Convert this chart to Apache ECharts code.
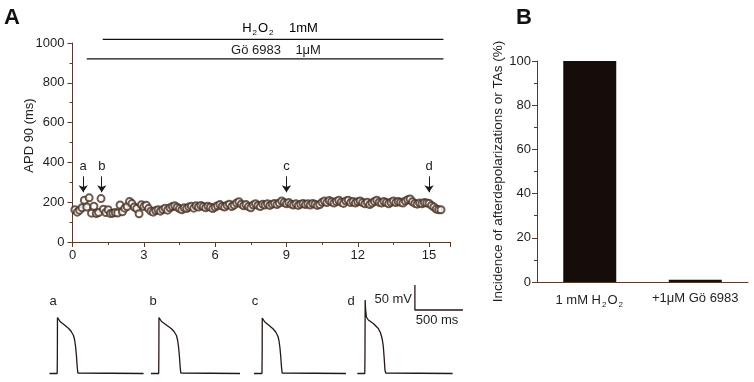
<!DOCTYPE html>
<html>
<head>
<meta charset="utf-8">
<script src="https://cdn.jsdelivr.net/npm/echarts@6/dist/echarts.min.js"></script>
<style>
html,body{margin:0;padding:0;background:#fff;}
#main{width:754px;height:382px;}
</style>
</head>
<body>
<div id="main"></div>
<script>
// APD90 over time (min), panel A
var apdTime = [
  0.1,0.2,0.3,0.4,0.5,0.6,0.7,0.8,0.9,1.0,
  1.1,1.2,1.3,1.4,1.5,1.6,1.7,1.8,1.9,2.0,
  2.1,2.2,2.3,2.4,2.5,2.6,2.7,2.8,2.9,3.0,
  3.1,3.2,3.3,3.4,3.5,3.6,3.7,3.8,3.9,4.0,
  4.1,4.2,4.3,4.4,4.5,4.6,4.7,4.8,4.9,5.0,
  5.1,5.2,5.3,5.4,5.5,5.6,5.7,5.8,5.9,6.0,
  6.1,6.2,6.3,6.4,6.5,6.6,6.7,6.8,6.9,7.0,
  7.1,7.2,7.3,7.4,7.5,7.6,7.7,7.8,7.9,8.0,
  8.1,8.2,8.3,8.4,8.5,8.6,8.7,8.8,8.9,9.0,
  9.1,9.2,9.3,9.4,9.5,9.6,9.7,9.8,9.9,10.0,
  10.1,10.2,10.3,10.4,10.5,10.6,10.7,10.8,10.9,11.0,
  11.1,11.2,11.3,11.4,11.5,11.6,11.7,11.8,11.9,12.0,
  12.1,12.2,12.3,12.4,12.5,12.6,12.7,12.8,12.9,13.0,
  13.1,13.2,13.3,13.4,13.5,13.6,13.7,13.8,13.9,14.0,
  14.1,14.2,14.3,14.4,14.5,14.6,14.7,14.8,14.9,15.0,
  15.1,15.2,15.3,15.4,15.5
];
var apdValue = [
  162,150,160,172,210,176,222,145,180,143,
  148,218,165,148,162,143,145,148,146,186,
  152,170,178,204,193,176,168,142,187,178,
  185,168,155,150,158,162,155,163,170,160,
  172,178,182,175,168,162,172,168,176,180,
  170,182,176,184,178,172,180,175,168,176,
  182,188,180,176,185,190,178,186,196,202,
  190,182,188,178,172,186,192,184,178,190,
  186,192,184,190,194,188,196,206,198,192,
  198,190,186,192,184,190,194,188,192,186,
  194,190,184,188,200,206,198,208,202,196,
  204,210,200,194,206,210,198,204,196,202,
  206,198,192,200,188,196,204,210,200,196,
  204,198,192,200,206,198,204,200,196,206,
  212,216,202,194,190,196,192,198,196,194,
  184,176,166,162,162
];
var arrowTimes = [0.45, 1.23, 9.0, 15.0];
var arrowLabels = ['a', 'b', 'c', 'd'];
var arrowFrom = 330, arrowTo = 250;
// drug application bars (min), drawn above the 1000 ms line
var h2o2Span = [1.27, 15.6], h2o2Level = 1018;
var goSpan = [0.6, 15.6], goLevel = 920;

// panel B
var groups = ['1 mM H₂O₂', '+1μM Gö 6983'];
var incidence = [100, 1];

// action potential traces [ms, mV]
var apA = [[0,-87],[80,-87],[82,-50],[83,25],[88,22],[110,17],[156,10],[200,3],[226,-3],[250,-11],[262,-20],[272,-34],[280,-50],[288,-72],[295,-86],[310,-87],[980,-87]];
var apB = [[0,-87],[80,-87],[82,-50],[83,25],[88,22],[110,17],[160,10],[210,3],[240,-3],[265,-11],[277,-20],[287,-34],[295,-50],[303,-72],[310,-86],[325,-87],[927,-87]];
var apC = [[0,-87],[83,-87],[85,-50],[86,24],[91,21],[113,16],[158,9],[200,2],[226,-4],[248,-12],[260,-21],[270,-35],[278,-52],[286,-73],[293,-86],[308,-87],[958,-87]];
var apD = [[0,-87],[78,-87],[80,-50],[82,60],[86,42],[95,26],[115,20],[167,13],[219,3],[240,-5],[253,-13],[263,-22],[271,-33],[280,-56],[288,-80],[296,-86],[310,-87],[993,-87]];
var scaleBar = [[600,90],[600,40],[1100,40]];

var font = 'Liberation Sans, Arial, Helvetica, sans-serif';
var axisColor = '#5a3a2c', textColor = '#1e1e1e', inkColor = '#241814';

var subRich = {
  n: {fontSize: 13, fontFamily: font, color: textColor},
  s: {fontSize: 8, fontFamily: font, color: textColor, padding: [9, 1, 0, 1]}
};
function subFmt(v) { return v.replace(/₂/g, '{s|2}'); }

var myChart = echarts.init(document.getElementById('main'), null, {renderer: 'canvas'});

function traceGrid(left, width) {
  return {left: left, top: 285, width: width, height: 90};
}
function hiddenX(idx, max) {
  return {type: 'value', gridIndex: idx, min: 0, max: max, show: false};
}
function hiddenY(idx) {
  return {type: 'value', gridIndex: idx, min: -90, max: 90, show: false};
}
function trace(idx, data) {
  return {type: 'line', xAxisIndex: idx, yAxisIndex: idx, data: data, symbol: 'none',
    lineStyle: {color: inkColor, width: 1.3}, silent: true, animation: false};
}

var option = {
  backgroundColor: '#fff',
  animation: false,
  textStyle: {fontFamily: font},
  grid: [
    {left: 72.5, top: 43, width: 378, height: 199},
    {left: 537, top: 61, width: 211, height: 221},
    traceGrid(49.5, 96),
    traceGrid(151, 96),
    traceGrid(254, 96),
    traceGrid(357.3, 115.2)
  ],
  xAxis: [
    {
      type: 'value', gridIndex: 0, min: 0, max: 15.9, interval: 3,
      axisLine: {lineStyle: {color: axisColor, width: 1}},
      axisTick: {length: 5, lineStyle: {color: axisColor}},
      minorTick: {show: true, splitNumber: 2, length: 3, lineStyle: {color: axisColor}},
      axisLabel: {fontSize: 13, color: textColor, margin: 7, showMaxLabel: false},
      splitLine: {show: false}
    },
    {
      type: 'category', gridIndex: 1, data: groups,
      axisLine: {lineStyle: {color: axisColor, width: 1}},
      axisTick: {length: 5, lineStyle: {color: axisColor}},
      axisLabel: {fontSize: 13, color: textColor, margin: 10, interval: 0, hideOverlap: false,
        formatter: subFmt, rich: subRich}
    },
    hiddenX(2, 1000), hiddenX(3, 1000), hiddenX(4, 1000), hiddenX(5, 1200)
  ],
  yAxis: [
    {
      type: 'value', gridIndex: 0, min: 0, max: 1000, interval: 200, offset: 2,
      name: 'APD 90 (ms)', nameLocation: 'middle', nameGap: 35, nameMoveOverlap: false,
      nameTextStyle: {fontSize: 13, color: textColor, padding: [0, 0, 0, 14]},
      axisLine: {show: true, lineStyle: {color: axisColor, width: 1}},
      axisTick: {show: true, length: 5, lineStyle: {color: axisColor}},
      minorTick: {show: true, splitNumber: 2, length: 3, lineStyle: {color: axisColor}},
      axisLabel: {fontSize: 13, color: textColor, margin: 6, formatter: function (v) { return String(v); }},
      splitLine: {show: false}
    },
    {
      type: 'value', gridIndex: 1, min: 0, max: 100, interval: 20,
      name: 'Incidence of afterdepolarizations or TAs (%)', nameLocation: 'middle', nameGap: 32,
      nameTextStyle: {fontSize: 13.5, color: textColor},
      axisLine: {show: true, lineStyle: {color: axisColor, width: 1}},
      axisTick: {show: true, length: 5, lineStyle: {color: axisColor}},
      minorTick: {show: true, splitNumber: 2, length: 3, lineStyle: {color: axisColor}},
      axisLabel: {fontSize: 13, color: textColor, margin: 6},
      splitLine: {show: false}
    },
    hiddenY(2), hiddenY(3), hiddenY(4), hiddenY(5)
  ],
  series: [
    {
      type: 'scatter', xAxisIndex: 0, yAxisIndex: 0,
      data: apdTime.map(function (t, i) { return [t, apdValue[i]]; }),
      symbol: 'emptyCircle', symbolSize: 7,
      itemStyle: {color: '#4a3022', borderWidth: 0.8},
      markLine: {
        silent: true, symbol: ['none', 'arrow'], symbolSize: 7,
        lineStyle: {color: '#1a1a1a', width: 1, type: 'solid'},
        label: {show: true, position: 'start', formatter: '{b}', fontSize: 13, color: textColor, distance: 3},
        data: arrowTimes.map(function (t, i) {
          return [{coord: [t, arrowFrom], name: arrowLabels[i]}, {coord: [t, arrowTo]}];
        })
      }
    },
    {
      type: 'line', xAxisIndex: 0, yAxisIndex: 0, clip: false, symbol: 'none', silent: true,
      data: [[h2o2Span[0], h2o2Level], [h2o2Span[1], h2o2Level]],
      lineStyle: {color: '#111', width: 1.4}
    },
    {
      type: 'line', xAxisIndex: 0, yAxisIndex: 0, clip: false, symbol: 'none', silent: true,
      data: [[goSpan[0], goLevel], [goSpan[1], goLevel]],
      lineStyle: {color: '#111', width: 1.4}
    },
    {
      type: 'bar', xAxisIndex: 1, yAxisIndex: 1, data: incidence, barWidth: 53,
      itemStyle: {color: '#150d0a'}
    },
    trace(2, apA),
    trace(3, apB),
    trace(4, apC),
    trace(5, apD),
    trace(5, scaleBar)
  ],
  graphic: [
    {type: 'text', style: {text: 'A', x: 4, y: 18, font: 'bold 22px ' + font, fill: '#111', verticalAlign: 'middle'}},
    {type: 'text', style: {text: 'B', x: 516, y: 18, font: 'bold 22px ' + font, fill: '#111', verticalAlign: 'middle'}},
    {type: 'text', style: {text: '{n|H}{s|2}{n|O}{s|2}{n|    1mM}', rich: subRich, x: 280, y: 28, align: 'center', verticalAlign: 'middle'}},
    {type: 'text', style: {text: 'Gö 6983    1μM', x: 276, y: 50, align: 'center', verticalAlign: 'middle', font: '13px ' + font, fill: textColor}},
    {type: 'text', style: {text: 'a', x: 53, y: 301, align: 'center', verticalAlign: 'middle', font: '13px ' + font, fill: textColor}},
    {type: 'text', style: {text: 'b', x: 153, y: 301, align: 'center', verticalAlign: 'middle', font: '13px ' + font, fill: textColor}},
    {type: 'text', style: {text: 'c', x: 255, y: 301, align: 'center', verticalAlign: 'middle', font: '13px ' + font, fill: textColor}},
    {type: 'text', style: {text: 'd', x: 351, y: 301, align: 'center', verticalAlign: 'middle', font: '13px ' + font, fill: textColor}},
    {type: 'text', style: {text: '50 mV', x: 412, y: 299, align: 'right', verticalAlign: 'middle', font: '13px ' + font, fill: textColor}},
    {type: 'text', style: {text: '500 ms', x: 437, y: 320, align: 'center', verticalAlign: 'middle', font: '13px ' + font, fill: textColor}}
  ]
};

myChart.setOption(option);
window.onresize = myChart.resize;
</script>
</body>
</html>
